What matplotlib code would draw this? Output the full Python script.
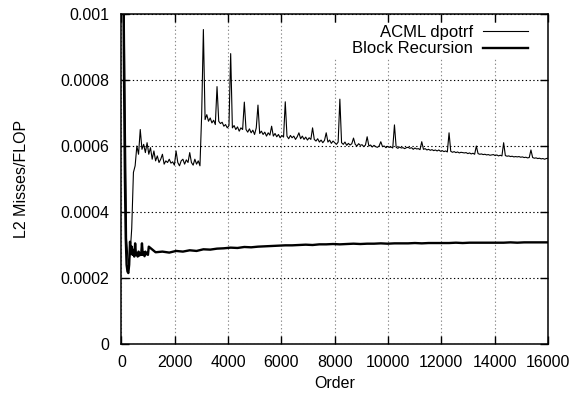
import matplotlib
matplotlib.use("Agg")
import matplotlib.pyplot as plt
from matplotlib.patches import Rectangle
import numpy as np

# L2 misses per FLOP, in units of 1e-4
# ACML dpotrf, sampled every 64 orders (64 .. 16000)
acml_order = np.arange(64, 16001, 64)
acml_misses = [
    14.0, 8.0, 3.2, 2.4, 2.7, 3.5, 5.2, 5.4,
    6.0, 5.75, 6.5, 5.9, 6.05, 5.8, 6.1, 5.75,
    5.95, 5.6, 5.85, 5.55, 5.7, 5.5, 5.6, 5.75,
    5.45, 5.55, 5.5, 5.6, 5.48, 5.52, 5.42, 5.85,
    5.5, 5.4, 5.55, 5.6, 5.45, 5.58, 5.5, 5.8,
    5.5, 5.42, 5.6, 5.45, 5.55, 5.4, 6.95, 9.53,
    6.8, 6.95, 6.75, 6.85, 6.7, 6.78, 6.65, 7.8,
    6.75, 6.68, 6.72, 6.6, 6.65, 6.55, 6.62, 8.8,
    6.55, 6.62, 6.5, 6.58, 6.45, 6.55, 6.5, 7.33,
    6.5, 6.42, 6.52, 6.4, 6.48, 6.35, 6.55, 7.24,
    6.38, 6.45, 6.35, 6.42, 6.3, 6.4, 6.33, 6.6,
    6.3, 6.38, 6.28, 6.35, 6.25, 6.32, 6.27, 7.34,
    6.3, 6.22, 6.32, 6.25, 6.3, 6.2, 6.28, 6.4,
    6.22, 6.3, 6.2, 6.27, 6.18, 6.25, 6.2, 6.55,
    6.2, 6.15, 6.22, 6.12, 6.18, 6.1, 6.17, 6.4,
    6.12, 6.18, 6.08, 6.15, 6.1, 6.05, 6.12, 7.42,
    6.1, 6.05, 6.12, 6.02, 6.08, 6.03, 6.07, 6.24,
    6.05, 6.0, 6.07, 6.02, 6.04, 5.98, 6.03, 6.28,
    6.0, 6.03, 5.97, 6.02, 5.98, 5.96, 6.0, 6.13,
    5.98, 6.0, 5.95, 5.99, 5.96, 5.97, 5.94, 6.64,
    5.96, 5.93, 5.97, 5.94, 5.95, 5.92, 5.95, 5.96,
    5.93, 5.95, 5.9, 5.94, 5.91, 5.92, 5.89, 6.13,
    5.9, 5.92, 5.88, 5.9, 5.87, 5.89, 5.86, 5.88,
    5.85, 5.88, 5.84, 5.86, 5.83, 5.85, 5.82, 6.4,
    5.84, 5.81, 5.83, 5.8, 5.82, 5.79, 5.81, 5.8,
    5.79, 5.8, 5.77, 5.79, 5.76, 5.78, 5.75, 6.0,
    5.77, 5.75, 5.76, 5.74, 5.75, 5.73, 5.74, 5.72,
    5.73, 5.74, 5.71, 5.73, 5.7, 5.72, 5.7, 6.1,
    5.71, 5.69, 5.7, 5.68, 5.69, 5.67, 5.68, 5.67,
    5.68, 5.66, 5.67, 5.65, 5.66, 5.64, 5.65, 5.88,
    5.65, 5.63, 5.64, 5.62, 5.63, 5.61, 5.62, 5.6,
    5.62, 5.63,
]

# Block Recursion: fine sampling at small orders, coarser afterwards
br_order = np.append(np.concatenate([np.arange(32, 1025, 32),
                                     np.arange(1280, 16001, 256)]), 16000)
br_misses = [
    15.0, 12.0, 8.0, 5.0, 3.2, 2.4, 2.2, 2.15,
    2.4, 3.1, 2.75, 2.95, 2.7, 2.85, 2.65, 3.05,
    2.7, 2.75, 2.65, 2.8, 2.68, 2.75, 2.7, 3.05,
    2.7, 2.78, 2.66, 2.8, 2.72, 2.76, 2.7, 2.95,
    2.78, 2.80, 2.77, 2.82, 2.80, 2.84, 2.82, 2.87,
    2.86, 2.89, 2.90, 2.92, 2.91, 2.94, 2.93, 2.95,
    2.96, 2.97, 2.98, 2.99, 2.99, 3.00, 3.01, 3.00,
    3.02, 3.02, 3.03, 3.02, 3.03, 3.04, 3.03, 3.04,
    3.04, 3.05, 3.04, 3.05, 3.05, 3.05, 3.06, 3.05,
    3.06, 3.06, 3.06, 3.06, 3.07, 3.06, 3.07, 3.07,
    3.07, 3.07, 3.07, 3.07, 3.08, 3.07, 3.08, 3.08,
    3.08, 3.08, 3.08,
]

xticks = [0, 2000, 4000, 6000, 8000, 10000, 12000, 14000, 16000]
yticks = [0, 0.0002, 0.0004, 0.0006, 0.0008, 0.001]
ytick_labels = ["0", "0.0002", "0.0004", "0.0006", "0.0008", "0.001"]

plt.rcParams['font.family'] = ['Liberation Sans', 'DejaVu Sans']

fig = plt.figure(figsize=(5.81, 3.97), dpi=100)
ax = fig.add_axes([0.2091, 0.1335, 0.7341, 0.8312])

l1, = ax.plot(acml_order, np.array(acml_misses) * 1e-4, color='black',
              lw=0.8, label='ACML dpotrf')
l2, = ax.plot(br_order, np.array(br_misses) * 1e-4, color='black',
              lw=1.7, label='Block Recursion')

ax.set_xlim(0, 16000)
ax.set_ylim(0, 0.001)
ax.set_xticks(xticks)
ax.set_yticks(yticks)
ax.set_yticklabels(ytick_labels)

# gnuplot-like frame: inward ticks on all four sides
ax.tick_params(direction='in', length=5.8, width=1, top=True, right=True,
               labelsize=11.5)
ax.tick_params(axis='y', pad=9)
ax.tick_params(axis='x', pad=8)
for s in ax.spines.values():
    s.set_linewidth(1.1)

ax.xaxis.grid(True, linestyle=(0, (1.2, 2.2)), color='#888888', lw=0.8)
ax.yaxis.grid(True, linestyle=(0, (1.2, 2.2)), color='black', lw=0.8)
ax.set_axisbelow(True)

ax.set_xlabel('Order', fontsize=11.5, labelpad=4)
ax.set_ylabel('L2 Misses/FLOP', fontsize=11.5, labelpad=22)

# white key area that hides the grid behind the legend (top ticks stay visible)
ax.add_patch(Rectangle((0.48, 0.864), 0.52, 0.109, transform=ax.transAxes,
                       facecolor='white', edgecolor='none', zorder=1.5))

# one legend per entry so the texts end flush right, gnuplot style
leg_kw = dict(loc='upper right', markerfirst=False, frameon=False,
              fontsize=12, handlelength=2.7, handletextpad=0.6,
              borderpad=0.3, borderaxespad=0)
leg2 = ax.legend(handles=[l2], bbox_to_anchor=(0.965, 0.932), **leg_kw)
ax.add_artist(leg2)
ax.legend(handles=[l1], bbox_to_anchor=(0.965, 0.982), **leg_kw)

fig.savefig('out.png', dpi=100)
